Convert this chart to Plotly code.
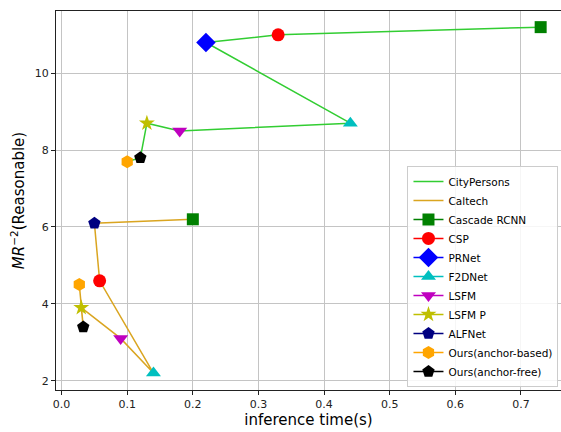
import plotly.graph_objects as go

# Data
methods = ["Cascade RCNN", "CSP", "PRNet", "F2DNet", "LSFM", "LSFM P", "ALFNet",
           "Ours(anchor-based)", "Ours(anchor-free)"]

city_names = ["Cascade RCNN", "CSP", "PRNet", "F2DNet", "LSFM", "LSFM P",
              "Ours(anchor-free)", "Ours(anchor-based)"]
city_time = [0.73, 0.33, 0.22, 0.44, 0.18, 0.13, 0.12, 0.10]
city_mr = [11.2, 11.0, 10.8, 8.7, 8.5, 8.7, 7.8, 7.7]

caltech_names = ["Cascade RCNN", "ALFNet", "CSP", "F2DNet", "LSFM", "LSFM P",
                 "Ours(anchor-free)", "Ours(anchor-based)"]
caltech_time = [0.20, 0.05, 0.058, 0.14, 0.09, 0.03, 0.033, 0.027]
caltech_mr = [6.2, 6.1, 4.6, 2.2, 3.1, 3.9, 3.4, 4.5]

x_ticks = [0.0, 0.1, 0.2, 0.3, 0.4, 0.5, 0.6, 0.7]
y_ticks = [2, 4, 6, 8, 10]

styles = {
    "Cascade RCNN": ("#008000", "square", 12),
    "CSP": ("#FF0000", "circle", 13),
    "PRNet": ("#0000FF", "diamond", 15),
    "F2DNet": ("#00BFBF", "triangle-up", 13),
    "LSFM": ("#BF00BF", "triangle-down", 13),
    "LSFM P": ("#BFBF00", "star", 12),
    "ALFNet": ("#000080", "pentagon", 13),
    "Ours(anchor-based)": ("#FFA500", "hexagon", 13),
    "Ours(anchor-free)": ("#000000", "pentagon", 13),
}

fig = go.Figure()
fig.add_trace(go.Scatter(x=city_time, y=city_mr, mode="lines", name="CityPersons",
                         line=dict(color="#32CD32", width=1.5)))
fig.add_trace(go.Scatter(x=caltech_time, y=caltech_mr, mode="lines", name="Caltech",
                         line=dict(color="#DAA520", width=1.5)))

for m in methods:
    xs, ys = [], []
    if m in city_names:
        i = city_names.index(m)
        xs.append(city_time[i]); ys.append(city_mr[i])
    if m in caltech_names:
        i = caltech_names.index(m)
        if xs:
            xs.append(None); ys.append(None)
        xs.append(caltech_time[i]); ys.append(caltech_mr[i])
    c, sym, sz = styles[m]
    fig.add_trace(go.Scatter(x=xs, y=ys, mode="lines+markers", name=m,
                             connectgaps=False,
                             line=dict(color=c, width=1.5),
                             marker=dict(color=c, symbol=sym, size=sz, line=dict(width=0))))

axis_common = dict(showline=True, linecolor="#222", linewidth=1,
                   ticks="outside", ticklen=4, tickcolor="#222", automargin=False,
                   showgrid=True, gridcolor="#c4c4c4", gridwidth=1.2, zeroline=False,
                   tickfont=dict(family="DejaVu Sans", size=11, color="#222"))

fig.update_layout(
    width=561, height=432,
    margin=dict(l=56, r=0, t=11, b=42),
    plot_bgcolor="white", paper_bgcolor="white",
    font=dict(family="DejaVu Sans"),
    xaxis=dict(range=[-0.0085, 0.761], tickvals=x_ticks, mirror=True,
               ticktext=[f"{v:.1f}" for v in x_ticks],
               title=dict(text="inference time(s)", font=dict(size=15, color="black"), standoff=4),
               **axis_common),
    yaxis=dict(range=[1.758, 11.62], tickvals=y_ticks, mirror=False,
               title=dict(text="<i>MR</i><sup>−2</sup>(Reasonable)", font=dict(size=15, color="black"), standoff=6),
               **axis_common),
    legend=dict(x=0.995, y=0.008, xanchor="right", yanchor="bottom",
                bgcolor="rgba(255,255,255,0.85)", bordercolor="#cccccc", borderwidth=1,
                font=dict(size=10.5, color="black"), tracegroupgap=0, itemwidth=30),
    showlegend=True,
)

fig.write_html("out.html", config={"displayModeBar": False},
               post_script="document.body.style.margin='0';")
